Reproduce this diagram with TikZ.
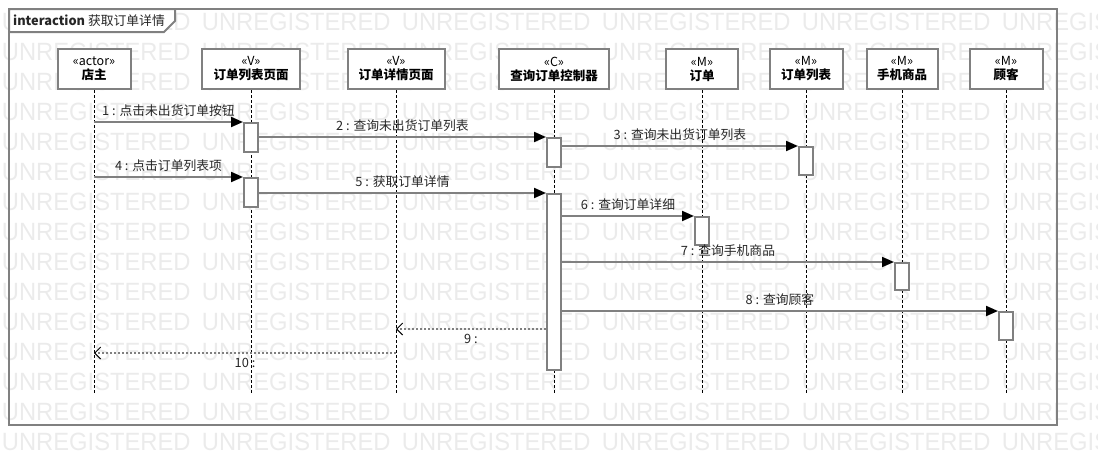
\documentclass[tikz,border=0pt]{standalone}
\usepackage{fontspec}
\setmainfont{Noto Sans CJK SC}
\newfontfamily\wmfont[FakeStretch=0.95]{Liberation Sans}
\usetikzlibrary{arrows.meta}
\definecolor{umlline}{HTML}{808080}
\definecolor{wmgray}{HTML}{EBEBEB}
\tikzset{
  frame/.style={draw=umlline,line width=2pt},
  head/.style={draw=umlline,line width=2pt,fill=white,minimum height=40pt,align=center,inner sep=0pt,font=\fontsize{12.5}{14}\selectfont},
  act/.style={draw=umlline,line width=2pt,fill=white,minimum width=14pt,inner sep=0pt},
  life/.style={line width=0.8pt,dash pattern=on 3pt off 2pt},
  msg/.style={umlline,line width=2pt,-{Triangle[length=12pt,width=10pt,color=black]}},
  ret/.style={umlline,line width=1.6pt,dash pattern=on 2pt off 2pt,-{Straight Barb[length=6pt,width=12pt,color=black,line width=1pt]}},
  lbl/.style={font=\fontsize{12.8}{14}\selectfont,text=black!85,inner sep=0pt},
  wm/.style={font=\wmfont\fontsize{25}{25}\selectfont,text=wmgray,anchor=base west,inner sep=0pt}
}

\begin{document}
\begin{tikzpicture}[x=1pt,y=-1pt]
\useasboundingbox (0,0) rectangle (1098,466);
\foreach \r in {0,...,14}
  \foreach \c in {0,...,5}
    \node[wm] (wm-\r-\c) at (1.7+\c*200,30+\r*30) {UNREGISTERED};

\draw[frame] (9,9) rectangle (1057,425);
\filldraw[frame,fill=white] (9,9) -- (175,9) -- (175,21) -- (164,32) -- (9,32) -- cycle;
\node[lbl,anchor=west] (title) at (13,20.5) {\textbf{interaction} 获取订单详情};

\node[head,minimum width=73pt] (shopkeeper) at (94,69) {«actor»\\\textbf{店主}};
\node[head,minimum width=98pt] (listpage) at (251,69) {«V»\\\textbf{订单列表页面}};
\node[head,minimum width=97pt] (detailpage) at (396,69) {«V»\\\textbf{订单详情页面}};
\node[head,minimum width=110pt] (ctrl) at (554,69) {«C»\\\textbf{查询订单控制器}};
\node[head,minimum width=72pt] (order) at (702,69) {«M»\\\textbf{订单}};
\node[head,minimum width=73pt] (orderlist) at (806,69) {«M»\\\textbf{订单列表}};
\node[head,minimum width=71pt] (phone) at (902,69) {«M»\\\textbf{手机商品}};
\node[head,minimum width=73pt] (customer) at (1006,69) {«M»\\\textbf{顾客}};

\foreach \h in {shopkeeper,listpage,detailpage,ctrl,order,orderlist,phone,customer}
  \draw[life] (\h.south) -- ++(0,304);

\node[act,minimum height=29pt] (a1) at (251,137.5) {};
\node[act,minimum height=29pt] (a2) at (554,152.5) {};
\node[act,minimum height=28pt] (a3) at (806,161) {};
\node[act,minimum height=29pt] (a4) at (251,192.5) {};
\node[act,minimum height=176pt] (a5) at (554,282) {};
\node[act,minimum height=28pt] (a6) at (702,231) {};
\node[act,minimum height=27pt] (a7) at (902,276.5) {};
\node[act,minimum height=28pt] (a8) at (1006,326) {};
\coordinate (r9) at (396,329);
\coordinate (r10) at (94,353);

\draw[msg] (shopkeeper |- a1.north west) -- node[lbl,above=4pt] {1 : 点击未出货订单按钮} (a1.north west);
\draw[msg] (a1.east |- a2.north west) -- node[lbl,above=4pt] {2 : 查询未出货订单列表} (a2.north west);
\draw[msg] (a2.east |- a3.north west) -- node[lbl,above=4pt] {3 : 查询未出货订单列表} (a3.north west);
\draw[msg] (shopkeeper |- a4.north west) -- node[lbl,above=4pt] {4 : 点击订单列表项} (a4.north west);
\draw[msg] (a4.east |- a5.north west) -- node[lbl,above=4pt] {5 : 获取订单详情} (a5.north west);
\draw[msg] (a5.east |- a6.north west) -- node[lbl,above=4pt] {6 : 查询订单详细} (a6.north west);
\draw[msg] (a5.east |- a7.north west) -- node[lbl,above=4pt] {7 : 查询手机商品} (a7.north west);
\draw[msg] (a5.east |- a8.north west) -- node[lbl,above=4pt] {8 : 查询顾客} (a8.north west);
\draw[ret] (a5.west |- r9) -- node[lbl,below=4pt] {9 :} (r9);
\draw[ret] (detailpage |- r10) -- node[lbl,below=4pt] {10 :} (r10);
\end{tikzpicture}
\end{document}
